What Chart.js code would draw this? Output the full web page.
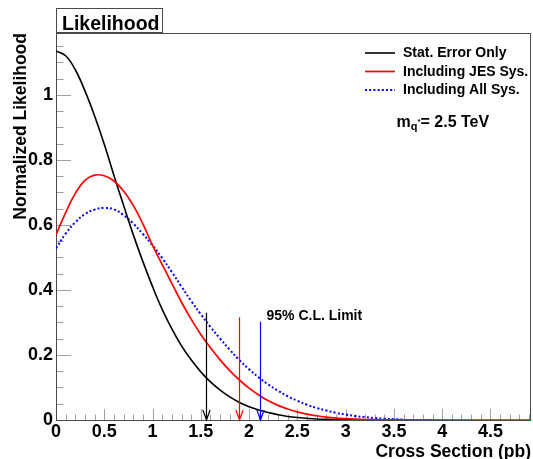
<!DOCTYPE html>
<html>
<head>
<meta charset="utf-8">
<script src="https://cdn.jsdelivr.net/npm/chart.js@4.4.1/dist/chart.umd.min.js"></script>
<style>
  html, body { margin: 0; padding: 0; background: #ffffff; }
  #wrap { width: 533px; height: 459px; }
</style>
</head>
<body>
<div id="wrap"><canvas id="likelihood" width="533" height="459"></canvas></div>
<script>
// Cross-section grid (pb) shared by the three likelihood curves
const crossSection = [0, 0.1, 0.2, 0.3, 0.4, 0.5, 0.6, 0.7, 0.8, 0.9,
  1.0, 1.1, 1.2, 1.3, 1.4, 1.5, 1.6, 1.7, 1.8, 1.9,
  2.0, 2.1, 2.2, 2.3, 2.4, 2.5, 2.6, 2.7, 2.8, 2.9,
  3.0, 3.1, 3.2, 3.3, 3.4, 3.5, 3.6, 4.92];

// Normalized likelihood, statistical error only
const statOnly = [1.135, 1.12, 1.077, 1.012, 0.935, 0.848, 0.752, 0.66, 0.57, 0.487,
  0.41, 0.34, 0.28, 0.228, 0.185, 0.148, 0.117, 0.092, 0.071, 0.054,
  0.041, 0.031, 0.023, 0.016, 0.011, 0.0075, 0.005, 0.003, 0.002, 0.0012,
  0.0007, 0.0004, 0.0002, 0.0001, 0, null, null, null];

// Including jet-energy-scale systematics
const jesSys = [0.57, 0.638, 0.697, 0.737, 0.753, 0.751, 0.735, 0.704, 0.66, 0.603,
  0.537, 0.478, 0.42, 0.362, 0.31, 0.263, 0.222, 0.185, 0.152, 0.123,
  0.098, 0.077, 0.059, 0.045, 0.034, 0.025, 0.018, 0.013, 0.009, 0.006,
  0.004, 0.0025, 0.0015, 0.001, 0.0005, 0.0003, 0.0001, 0];

// Including all systematics
const allSys = [0.528, 0.573, 0.608, 0.633, 0.647, 0.652, 0.648, 0.63, 0.604, 0.572,
  0.537, 0.498, 0.455, 0.41, 0.366, 0.325, 0.286, 0.25, 0.216, 0.184,
  0.156, 0.131, 0.109, 0.09, 0.073, 0.059, 0.047, 0.037, 0.029, 0.022,
  0.017, 0.012, 0.009, 0.006, 0.004, 0.0025, 0.0015, null];

const seriesNames = ['Stat. Error Only', 'Including JES Sys.', 'Including All Sys.'];
const seriesColors = ['#000000', '#ff0000', '#0000ff'];

// 95% C.L. upper limits (pb) and the heights where their arrows start
const clLimits = [1.55, 1.90, 2.11];
const clArrowTops = [0.33, 0.316, 0.302];

// Axis ticks and labels
const xTicks = [0, 0.5, 1, 1.5, 2, 2.5, 3, 3.5, 4, 4.5];
const xTickLabels = ['0', '0.5', '1', '1.5', '2', '2.5', '3', '3.5', '4', '4.5'];
const yTicks = [0, 0.2, 0.4, 0.6, 0.8, 1];
const yTickLabels = ['0', '0.2', '0.4', '0.6', '0.8', '1'];

const X_MIN = 0, X_MAX = 4.92, Y_MIN = 0, Y_MAX = 1.19;
const FONT = '"Liberation Sans", Arial, Helvetica, sans-serif';

function toPoints(values) {
  return crossSection.map((x, i) => ({ x: x, y: values[i] }));
}

// Frame plus inward-pointing major/minor ticks, drawn under the curves
const frameAndTicks = {
  id: 'frameAndTicks',
  beforeDatasetsDraw(chart) {
    const { ctx, chartArea: a, scales: { x, y } } = chart;
    ctx.save();
    ctx.lineWidth = 1;
    ctx.strokeStyle = '#a0a0a0';
    ctx.beginPath();
    for (let i = 0; i * 0.1 <= X_MAX + 1e-9; i++) {
      const px = Math.round(x.getPixelForValue(i * 0.1)) + 0.5;
      const len = (i % 5 === 0) ? 11 : 5.5;
      ctx.moveTo(px, a.bottom);
      ctx.lineTo(px, a.bottom - len);
    }
    for (let i = 0; i * 0.05 <= Y_MAX + 1e-9; i++) {
      const py = Math.round(y.getPixelForValue(i * 0.05)) + 0.5;
      const len = (i % 4 === 0) ? 15 : 7.5;
      ctx.moveTo(a.left, py);
      ctx.lineTo(a.left + len, py);
    }
    ctx.stroke();
    ctx.strokeStyle = '#4a4a4a';
    ctx.strokeRect(Math.round(a.left) + 0.5, Math.round(a.top) + 0.5,
      Math.round(a.right - a.left) - 1, Math.round(a.bottom - a.top));
    ctx.restore();
  }
};

// Limit arrows, the limit caption, legend and mass label
const overlay = {
  id: 'overlay',
  afterDatasetsDraw(chart) {
    const { ctx, scales: { x, y } } = chart;
    ctx.save();
    clLimits.forEach((v, i) => {
      const px = Math.round(x.getPixelForValue(v)) + 0.5;
      const top = y.getPixelForValue(clArrowTops[i]);
      const bot = y.getPixelForValue(0);
      ctx.strokeStyle = seriesColors[i];
      ctx.lineWidth = 1.2;
      ctx.beginPath();
      ctx.moveTo(px, top);
      ctx.lineTo(px, bot);
      ctx.moveTo(px - 3.6, bot - 10);
      ctx.lineTo(px, bot);
      ctx.lineTo(px + 3.6, bot - 10);
      ctx.stroke();
    });
    ctx.fillStyle = '#000';
    ctx.font = 'bold 14px ' + FONT;
    ctx.textBaseline = 'middle';
    ctx.textAlign = 'left';
    ctx.fillText('95% C.L. Limit', x.getPixelForValue(2.18), y.getPixelForValue(0.32));
    ctx.restore();
  },
  afterDraw(chart) {
    const { ctx } = chart;
    ctx.save();
    // histogram title box
    ctx.strokeStyle = '#4a4a4a';
    ctx.lineWidth = 1;
    ctx.strokeRect(56.5, 8.5, 106, 24);
    ctx.fillStyle = '#000';
    ctx.font = 'bold 19.5px ' + FONT;
    ctx.textBaseline = 'alphabetic';
    ctx.textAlign = 'left';
    ctx.fillText('Likelihood', 62, 29.5);

    // legend
    chart.data.datasets.forEach((ds, i) => {
      const ly = 53 + i * 18.5;
      ctx.strokeStyle = ds.borderColor;
      ctx.lineWidth = ds.borderWidth;
      ctx.setLineDash(ds.borderDash || []);
      ctx.beginPath();
      ctx.moveTo(365, ly);
      ctx.lineTo(395, ly);
      ctx.stroke();
      ctx.setLineDash([]);
      ctx.fillStyle = '#000';
      ctx.font = 'bold 14px ' + FONT;
      ctx.textBaseline = 'middle';
      ctx.fillText(ds.label, 403, ly + 0.5);
    });

    // mass label  m_{q*} = 2.5 TeV
    let tx = 396.5;
    const base = 126.5;
    ctx.textBaseline = 'alphabetic';
    ctx.font = 'bold 16px ' + FONT;
    ctx.fillText('m', tx, base);
    tx += ctx.measureText('m').width;
    ctx.font = 'bold 11px ' + FONT;
    ctx.fillText('q', tx, base + 3.5);
    tx += ctx.measureText('q').width;
    ctx.font = 'bold 8px ' + FONT;
    ctx.fillText('*', tx, base - 3);
    tx += ctx.measureText('*').width;
    ctx.font = 'bold 16px ' + FONT;
    ctx.fillText('= 2.5 TeV', tx, base);
    ctx.restore();
  }
};

new Chart(document.getElementById('likelihood'), {
  type: 'line',
  data: {
    datasets: [
      { label: seriesNames[0], data: toPoints(statOnly), borderColor: seriesColors[0],
        borderWidth: 1.6, order: 1 },
      { label: seriesNames[1], data: toPoints(jesSys), borderColor: seriesColors[1],
        borderWidth: 1.7, order: 0 },
      { label: seriesNames[2], data: toPoints(allSys), borderColor: seriesColors[2],
        borderWidth: 2, borderDash: [2, 2.2], order: 2 }
    ]
  },
  options: {
    responsive: false,
    animation: false,
    devicePixelRatio: 1,
    elements: {
      point: { radius: 0 },
      line: { tension: 0.4, fill: false }
    },
    layout: { padding: { top: 33, right: 2, bottom: 0, left: 0 } },
    plugins: { legend: { display: false }, tooltip: { enabled: false }, title: { display: false } },
    scales: {
      x: {
        type: 'linear', min: X_MIN, max: X_MAX,
        afterFit(scale) { scale.height = 39; },
        afterBuildTicks(scale) { scale.ticks = xTicks.map(v => ({ value: v })); },
        grid: { display: false, drawTicks: false },
        border: { display: false },
        ticks: {
          autoSkip: false, maxRotation: 0, padding: 1, color: '#000',
          font: { family: FONT, size: 18, weight: 'bold' },
          callback: (v, i) => xTickLabels[i]
        },
        title: {
          display: true, text: 'Cross Section (pb)', align: 'end', color: '#000',
          font: { family: FONT, size: 17.5, weight: 'bold', lineHeight: 1 },
          padding: { top: 0, bottom: -1.5 }
        }
      },
      y: {
        type: 'linear', min: Y_MIN, max: Y_MAX,
        afterFit(scale) { scale.width = 56; },
        afterBuildTicks(scale) { scale.ticks = yTicks.map(v => ({ value: v })); },
        grid: { display: false, drawTicks: false },
        border: { display: false },
        ticks: {
          autoSkip: false, padding: 3, color: '#000',
          font: { family: FONT, size: 18, weight: 'bold' },
          callback: (v, i) => yTickLabels[i]
        },
        title: {
          display: true, text: 'Normalized Likelihood', align: 'end', color: '#000',
          font: { family: FONT, size: 17.5, weight: 'bold', lineHeight: 1.2 },
          padding: { top: 10.5, bottom: 0 }
        }
      }
    }
  },
  plugins: [frameAndTicks, overlay]
});
</script>
</body>
</html>
